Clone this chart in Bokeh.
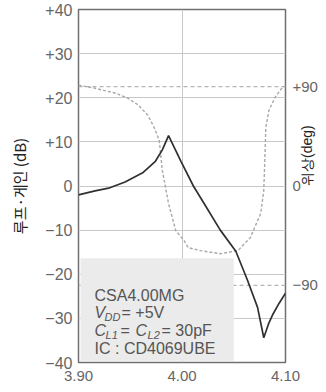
import math
from bokeh.plotting import figure
from bokeh.models import (Range1d, LinearAxis, FixedTicker, Span, BoxAnnotation, Label)
from bokeh.embed import file_html
from bokeh.resources import INLINE

# ---- data ----
gain_freq = [3.900, 3.916, 3.929, 3.945, 3.962, 3.974, 3.981, 3.987, 3.999, 4.011,
             4.024, 4.037, 4.052, 4.063, 4.073, 4.079, 4.084, 4.088, 4.094, 4.100]
gain_db = [-2.0, -1.1, -0.5, 0.9, 3.0, 5.5, 8.2, 11.4, 5.6, 0.0,
           -5.0, -10.0, -14.8, -21.2, -27.5, -34.4, -31.0, -29.0, -26.5, -24.3]

phase_freq = [3.900, 3.916, 3.936, 3.948, 3.958, 3.967, 3.973, 3.978, 3.981, 3.987,
              3.994, 4.002, 4.006, 4.018, 4.037, 4.054, 4.066, 4.076, 4.079, 4.080,
              4.081, 4.084, 4.090, 4.097, 4.100]
phase_deg = [91.4, 88.6, 84.1, 79.5, 73.2, 64.1, 53.2, 41.4, 14.1, -15.9,
             -40.5, -49.5, -55.9, -58.6, -61.4, -58.6, -46.8, -25.0, -4.1, 23.2,
             53.2, 68.6, 80.5, 89.5, 90.5]

x_ticks = [3.90, 4.00, 4.10]
x_tick_labels = ["3.90", "4.00", "4.10"]
gain_ticks = [-40, -30, -20, -10, 0, 10, 20, 30, 40]
gain_tick_labels = ["−40", "−30", "−20", "−10", "0", "+10", "+20", "+30", "+40"]
phase_ticks = [-90, 0, 90]
phase_tick_labels = ["−90", "0", "+90"]

left_label = "루프·게인 (dB)"
right_label = "위상(deg)"

TICK_FONT = "Liberation Sans"
CJK_FONT = "Noto Sans CJK KR"
TICK_COLOR = "#666666"

p = figure(width=326, height=392, x_range=Range1d(3.90, 4.10), y_range=Range1d(-40, 40),
           output_backend="svg", toolbar_location=None, title=None,
           x_axis_location=None, y_axis_location=None,
           min_border_left=78, min_border_right=41, min_border_top=9, min_border_bottom=30)
p.extra_y_ranges = {"phase": Range1d(-160, 160)}
p.background_fill_color = "white"
p.border_fill_color = "white"
p.outline_line_color = "#707070"
p.outline_line_width = 1.5

def style_axis(ax, size="16px"):
    ax.axis_line_color = None
    ax.major_tick_line_color = None
    ax.minor_tick_line_color = None
    ax.major_tick_in = 0
    ax.major_tick_out = 0
    ax.major_label_text_font = TICK_FONT
    ax.major_label_text_font_size = size
    ax.major_label_text_color = TICK_COLOR

xaxis = LinearAxis(ticker=FixedTicker(ticks=x_ticks),
                   major_label_overrides={t: l for t, l in zip(x_ticks, x_tick_labels)})
style_axis(xaxis, "15px")
xaxis.major_label_standoff = 8
p.add_layout(xaxis, "below")

yaxis = LinearAxis(ticker=FixedTicker(ticks=gain_ticks),
                   major_label_overrides={t: l for t, l in zip(gain_ticks, gain_tick_labels)},
                   axis_label=left_label)
style_axis(yaxis)
yaxis.major_label_standoff = 6
yaxis.axis_label_text_font = CJK_FONT
yaxis.axis_label_text_font_size = "15px"
yaxis.axis_label_text_font_style = "normal"
yaxis.axis_label_text_color = "#222222"
yaxis.axis_label_standoff = 12
p.add_layout(yaxis, "left")

raxis = LinearAxis(y_range_name="phase", ticker=FixedTicker(ticks=phase_ticks),
                   major_label_overrides={t: l for t, l in zip(phase_ticks, phase_tick_labels)},
                   axis_label=right_label)
style_axis(raxis, "15px")
raxis.major_label_standoff = 7
raxis.axis_label_text_font = TICK_FONT
raxis.axis_label_text_font_size = "14px"
raxis.axis_label_text_font_style = "normal"
raxis.axis_label_text_color = "#222222"
raxis.axis_label_text_line_height = 1.0
raxis.axis_label_standoff = -14
if "axis_label_orientation" in raxis.properties():
    raxis.axis_label_orientation = math.pi / 2
p.add_layout(raxis, "right")

p.xgrid.ticker = FixedTicker(ticks=x_ticks)
p.ygrid.ticker = FixedTicker(ticks=gain_ticks)
p.xgrid.grid_line_color = "#c8c8c8"
p.ygrid.grid_line_color = "#c8c8c8"

for loc in (90, -90):
    p.add_layout(Span(location=loc, dimension="width", y_range_name="phase",
                      line_color="#b5b5b5", line_dash="4 3", line_width=1.2, level="underlay"))

# curves
p.line(phase_freq, phase_deg, y_range_name="phase", line_color="#a8a8a8",
       line_width=1.4, line_dash="3 2")
p.line(gain_freq, gain_db, line_color="#303030", line_width=1.7)

# info box
p.add_layout(BoxAnnotation(left=3.902, right=4.050, top=-16.4, bottom=-39.6,
                           fill_color="#ebebeb", fill_alpha=1.0, line_color=None))

TX = 3.9155
TCOL = "#555555"

def lab(text, y, dx=0, size="16px", style="normal"):
    p.add_layout(Label(x=TX, y=y, x_offset=dx, text=text, text_font=TICK_FONT,
                       text_font_size=size, text_font_style=style, text_color=TCOL,
                       text_baseline="alphabetic", text_align="left"))

lab("CSA4.00MG", -24.8)
lab("V", -28.7, 0, style="italic")
lab("DD", -29.6, 10, size="11px", style="italic")
lab("= +5V", -28.7, 27)
lab("C", -32.8, 0, style="italic")
lab("L1", -33.7, 11, size="11px", style="italic")
lab("=", -32.8, 26)
lab("C", -32.8, 41, style="italic")
lab("L2", -33.7, 53, size="11px", style="italic")
lab("= 30pF", -32.8, 67)
lab("IC : CD4069UBE", -36.8)

open("out.html", "w").write(file_html(p, INLINE))
